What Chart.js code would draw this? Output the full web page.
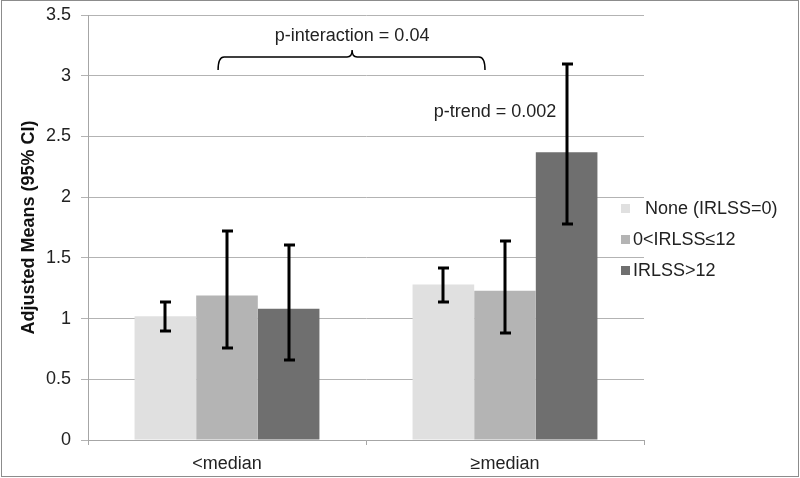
<!DOCTYPE html>
<html>
<head>
<meta charset="utf-8">
<script src="https://cdn.jsdelivr.net/npm/chart.js@4"></script>
<style>
    html, body { margin: 0; padding: 0; background: #fff; }
    #wrap { width: 800px; height: 478px; position: relative; }
</style>
</head>
<body>
<div id="wrap"><canvas id="chart" width="800" height="478"></canvas></div>
<script>
// Data
const categories = ['<median', '≥median'];
const seriesNames = ['None (IRLSS=0)', '0<IRLSS≤12', 'IRLSS>12'];
const seriesColors = ['#e0e0e0', '#b4b4b4', '#6f6f6f'];

const noneMeans = [1.02, 1.28];
const midMeans = [1.19, 1.23];
const highMeans = [1.08, 2.37];

const noneLower = [0.90, 1.14];
const noneUpper = [1.14, 1.42];
const midLower = [0.76, 0.88];
const midUpper = [1.72, 1.64];
const highLower = [0.66, 1.78];
const highUpper = [1.61, 3.10];

const yTicks = [0, 0.5, 1, 1.5, 2, 2.5, 3, 3.5];

const font = "'Liberation Sans', Arial, sans-serif";

const means = [noneMeans, midMeans, highMeans];
const lowers = [noneLower, midLower, highLower];
const uppers = [noneUpper, midUpper, highUpper];

// Error bars drawn from the bar elements and the y scale
const errorBars = {
    id: 'errorBars',
    afterDatasetsDraw(chart) {
        const ctx = chart.ctx;
        const y = chart.scales.y;
        ctx.save();
        ctx.strokeStyle = '#000';
        ctx.lineWidth = 3;
        chart.data.datasets.forEach((ds, i) => {
            chart.getDatasetMeta(i).data.forEach((bar, j) => {
                const top = Math.round(y.getPixelForValue(uppers[i][j]));
                const bot = Math.round(y.getPixelForValue(lowers[i][j]));
                const x = Math.round(bar.x);
                ctx.beginPath();
                ctx.moveTo(x, top);
                ctx.lineTo(x, bot);
                ctx.moveTo(x - 5, top);
                ctx.lineTo(x + 6, top);
                ctx.moveTo(x - 5, bot);
                ctx.lineTo(x + 6, bot);
                ctx.stroke();
            });
        });
        ctx.restore();
    }
};

// Annotations, custom legend and outer frame
const extras = {
    id: 'extras',
    afterDraw(chart) {
        const ctx = chart.ctx;
        const area = chart.chartArea;
        const y = chart.scales.y;
        const w = area.right - area.left;
        ctx.save();

        // brace + p-interaction
        const bx1 = area.left + w * 0.234;
        const bx2 = area.left + w * 0.714;
        const bmid = area.left + w * 0.475;
        const by = y.getPixelForValue(3.155);
        ctx.strokeStyle = '#000';
        ctx.lineWidth = 1.5;
        ctx.beginPath();
        ctx.moveTo(bx1, by + 13);
        ctx.quadraticCurveTo(bx1, by, bx1 + 6, by);
        ctx.lineTo(bmid - 5, by);
        ctx.quadraticCurveTo(bmid, by, bmid, by - 7);
        ctx.quadraticCurveTo(bmid, by, bmid + 5, by);
        ctx.lineTo(bx2 - 6, by);
        ctx.quadraticCurveTo(bx2, by, bx2, by + 13);
        ctx.stroke();

        ctx.fillStyle = '#222';
        ctx.font = '18px ' + font;
        ctx.textAlign = 'center';
        ctx.textBaseline = 'middle';
        ctx.fillText('p-interaction = 0.04', bmid, y.getPixelForValue(3.33));
        ctx.fillText('p-trend = 0.002', area.left + w * 0.732, y.getPixelForValue(2.70));

        // legend
        ctx.textAlign = 'left';
        const lx = 621;
        const ly = [208, 239, 270];
        seriesNames.forEach((name, i) => {
            ctx.fillStyle = seriesColors[i];
            ctx.fillRect(lx, ly[i] - 4, 9, 9);
            ctx.fillStyle = '#222';
            ctx.fillText(name, lx + (i === 0 ? 24 : 12), ly[i] + 1);
        });

        // outer frame
        ctx.strokeStyle = '#8c8c8c';
        ctx.lineWidth = 1;
        ctx.strokeRect(1.5, 0.5, chart.width - 3, chart.height - 2);
        ctx.restore();
    }
};

new Chart(document.getElementById('chart'), {
    type: 'bar',
    data: {
        labels: categories,
        datasets: seriesNames.map((name, i) => ({
            label: name,
            data: means[i],
            backgroundColor: seriesColors[i],
            borderWidth: 0,
            categoryPercentage: 0.665,
            barPercentage: 1.0
        }))
    },
    options: {
        responsive: false,
        animation: false,
        layout: { padding: { top: 15, right: 156, left: 18, bottom: 0 } },
        plugins: {
            legend: { display: false },
            tooltip: { enabled: false }
        },
        scales: {
            x: {
                offset: true,
                grid: {
                    offset: true,
                    drawOnChartArea: false,
                    tickLength: 5,
                    color: '#a6a6a6'
                },
                border: { color: '#a6a6a6' },
                ticks: {
                    color: '#222',
                    font: { family: font, size: 18 },
                    padding: 8
                },
                afterFit: s => { s.height = 38; s.paddingLeft = 0; s.paddingRight = 0; }
            },
            y: {
                min: 0,
                max: 3.5,
                afterBuildTicks: s => { s.ticks = yTicks.map(v => ({ value: v })); },
                grid: {
                    color: '#b3b3b3',
                    tickLength: 7
                },
                border: { color: '#a6a6a6' },
                ticks: {
                    color: '#222',
                    font: { family: font, size: 18 },
                    padding: 10,
                    callback: v => String(v)
                },
                title: {
                    display: true,
                    text: 'Adjusted Means (95% CI)',
                    color: '#111',
                    font: { family: font, size: 18, weight: 'bold' },
                    padding: { top: 0, bottom: 0 }
                },
                afterFit: s => { s.width = 70; s.paddingTop = 0; s.paddingBottom = 0; }
            }
        }
    },
    plugins: [errorBars, extras]
});
</script>
</body>
</html>
